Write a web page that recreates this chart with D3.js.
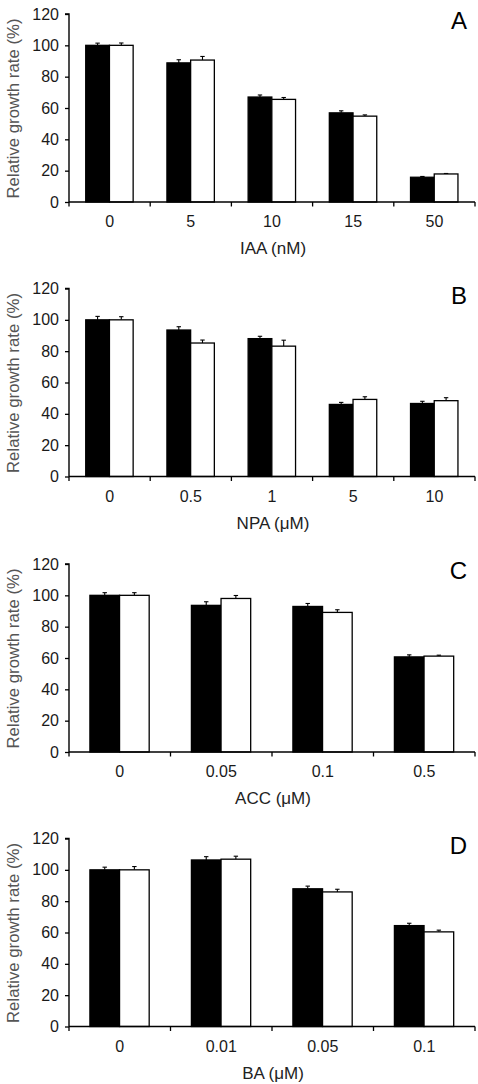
<!DOCTYPE html>
<html><head><meta charset="utf-8">
<script src="https://cdn.jsdelivr.net/npm/d3@7"></script>
<style>body{margin:0;background:#fff}svg{display:block}text{font-family:"Liberation Sans",Arial,sans-serif}</style>
</head><body><div id="chart"></div>
<script>
const panelLetters = ["A","B","C","D"];
const xTitles = ["IAA (nM)","NPA (μM)","ACC (μM)","BA (μM)"];
const catsA = ["0","5","10","15","50"];
const catsB = ["0","0.5","1","5","10"];
const catsC = ["0","0.05","0.1","0.5"];
const catsD = ["0","0.01","0.05","0.1"];
const blackA = [100, 88.8, 67, 56.9, 15.8];
const whiteA = [100, 90.6, 65.5, 54.8, 17.9];
const blackErrA = [1.4, 2.0, 1.3, 1.3, 0.5];
const whiteErrA = [1.5, 2.3, 1.2, 0.8, 0.3];
const blackB = [100, 93.5, 88, 46, 46.6];
const whiteB = [100, 85.2, 83.2, 49.2, 48.4];
const blackErrB = [2.2, 2.1, 1.5, 1.3, 1.4];
const whiteErrB = [2.0, 1.9, 3.8, 1.7, 1.9];
const blackC = [100, 93.6, 92.9, 60.7];
const whiteC = [100, 98, 89.1, 61.2];
const blackErrC = [1.7, 2.3, 1.9, 1.3];
const whiteErrC = [1.7, 1.9, 1.7, 0.6];
const blackD = [100, 106.3, 87.9, 64.4];
const whiteD = [100, 106.8, 85.9, 60.4];
const blackErrD = [1.7, 2.1, 1.7, 1.5];
const whiteErrD = [2.1, 1.9, 1.7, 1.1];
const yTicks = [0,20,40,60,80,100,120];
const yTitle = "Relative growth rate (%)";

const panels = [
  {cats: catsA, black: blackA, white: whiteA, be: blackErrA, we: whiteErrA},
  {cats: catsB, black: blackB, white: whiteB, be: blackErrB, we: whiteErrB},
  {cats: catsC, black: blackC, white: whiteC, be: blackErrC, we: whiteErrC},
  {cats: catsD, black: blackD, white: whiteD, be: blackErrD, we: whiteErrD}
];
const tops = [14, 288.5, 564, 838.5];
const W = 478, H = 1084;
const left = 69, right = 475, ph = 188;

const svg = d3.select("#chart").append("svg").attr("width", W).attr("height", H);

panels.forEach((p, i) => {
  const g = svg.append("g").attr("transform", `translate(0,${tops[i]})`);
  const y = d3.scaleLinear().domain([0,120]).range([ph, 0]);
  const x = d3.scaleBand().domain(p.cats).range([left, right]).paddingInner(0).paddingOuter(0);
  const xs = d3.scaleBand().domain(["black","white"]).range([x.bandwidth()*0.206, x.bandwidth()*0.79]).padding(0);

  const rows = p.cats.map((c, k) => [
    {cat: c, s: "black", v: p.black[k], e: p.be[k]},
    {cat: c, s: "white", v: p.white[k], e: p.we[k]}
  ]).flat();

  rows.forEach(r => {
    const cx = x(r.cat) + xs(r.s) + xs.bandwidth()/2;
    g.append("line").attr("x1", cx).attr("x2", cx).attr("y1", y(r.v)).attr("y2", y(r.v + r.e))
      .attr("stroke", "#000").attr("stroke-width", 1.1);
    g.append("line").attr("x1", cx - 2.2).attr("x2", cx + 2.2).attr("y1", y(r.v + r.e)).attr("y2", y(r.v + r.e))
      .attr("stroke", "#000").attr("stroke-width", 1.1);
  });

  g.selectAll("rect.bar").data(rows).join("rect")
    .attr("x", d => x(d.cat) + xs(d.s))
    .attr("y", d => y(d.v))
    .attr("width", xs.bandwidth())
    .attr("height", d => y(0) - y(d.v))
    .attr("fill", d => d.s === "black" ? "#000" : "#fff")
    .attr("stroke", "#000").attr("stroke-width", 1.3);

  const ya = g.append("g").attr("transform", `translate(${left},0)`)
    .call(d3.axisLeft(y).tickValues(yTicks).tickSize(4).tickPadding(6));
  ya.select(".domain").attr("stroke-width", 1.4).attr("d", `M-4,${y(120)}H0V${y(0)}`);
  ya.selectAll(".tick line").attr("stroke-width", 1.3);
  ya.selectAll("text").attr("font-size", 16).attr("fill", "#1a1a1a")
    .attr("font-family", "Liberation Sans, Arial, sans-serif");

  const bounds = p.cats.map(c => x(c)).concat([right]);
  g.append("line").attr("x1", left).attr("x2", right).attr("y1", y(0)).attr("y2", y(0))
    .attr("stroke", "#000").attr("stroke-width", 1.4);
  g.selectAll("line.xt").data(bounds).join("line").attr("class","xt")
    .attr("x1", d => d).attr("x2", d => d).attr("y1", y(0)).attr("y2", y(0) + 4.5)
    .attr("stroke", "#000").attr("stroke-width", 1.3);
  const xa = g.append("g").attr("transform", `translate(0,${y(0)})`)
    .call(d3.axisBottom(x).tickSize(0).tickPadding(14));
  xa.select(".domain").remove();
  xa.selectAll("text").attr("font-size", 16).attr("fill", "#1a1a1a")
    .attr("font-family", "Liberation Sans, Arial, sans-serif");

  g.append("text").attr("x", (left + right)/2 + 1).attr("y", ph + 52)
    .attr("text-anchor", "middle").attr("font-size", 17).attr("fill", "#222").text(xTitles[i]);

  g.append("text").attr("transform", `translate(19,${ph/2 + 0.5}) rotate(-90)`)
    .attr("text-anchor", "middle").attr("font-size", 16.8).attr("fill", "#555").text(yTitle);

  g.append("text").attr("x", 467).attr("y", 15).attr("text-anchor", "end")
    .attr("font-size", 24).attr("fill", "#000").text(panelLetters[i]);
});
</script></body></html>
